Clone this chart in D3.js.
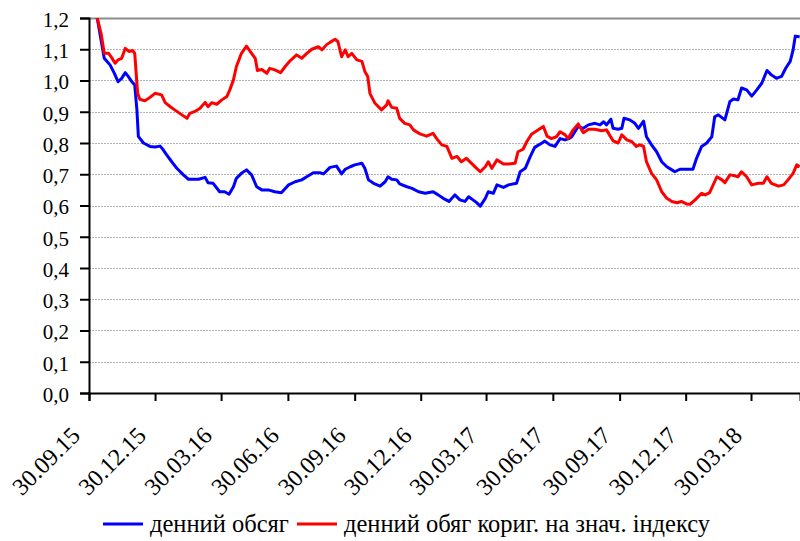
<!DOCTYPE html>
<html>
<head>
<meta charset="utf-8">
<script src="https://cdn.jsdelivr.net/npm/d3@7"></script>
<style>
  body { margin: 0; background: #fff; }
</style>
</head>
<body>
<div id="chart"></div>
<script>
const WIDTH = 800;
const HEIGHT = 541;
const FONT = "'Liberation Serif', 'DejaVu Serif', 'Times New Roman', serif";

// дата початку та кінець осі (у днях від 30.09.15)
const START = "2015-09-30";
const END_DAY = 979.5;

// денний обсяг: дні від 30.09.15 і значення
const blueDays = [0, 11, 21, 24, 29, 35, 40, 45, 50, 54, 59, 63, 66, 68, 75, 84, 91, 98, 102, 107,
  114, 121, 130, 137, 151, 160, 164, 171, 180, 187, 193, 199, 203, 210, 217, 224, 231, 238, 247, 256,
  265, 275, 284, 293, 300, 309, 318, 323, 332, 341, 348, 353, 360, 366, 376, 380, 385, 392, 401, 408,
  412, 417, 424, 428, 438, 445, 454, 463, 474, 481, 488, 496, 504, 511, 518, 523, 529, 534, 539, 546,
  550, 557, 562, 571, 578, 589, 594, 601, 608, 614, 624, 628, 635, 642, 649, 656, 661, 665, 674, 681,
  688, 697, 704, 709, 713, 719, 722, 729, 734, 737, 745, 752, 757, 764, 768, 775, 782, 789, 796, 803,
  807, 814, 823, 832, 837, 844, 851, 858, 862, 867, 876, 883, 888, 894, 899, 906, 913, 920, 927, 934,
  940, 947, 954, 960, 966, 970, 973, 979];
const blueValues = [1.32, 1.204, 1.071, 1.063, 1.05, 1.023, 0.996, 1.007, 1.025, 1.013, 0.996, 0.986, 0.906, 0.821, 0.80, 0.789, 0.787, 0.79, 0.779, 0.762,
  0.74, 0.719, 0.698, 0.684, 0.684, 0.69, 0.673, 0.671, 0.644, 0.644, 0.636, 0.66, 0.687, 0.703, 0.714, 0.698, 0.66, 0.65, 0.65, 0.644,
  0.641, 0.666, 0.676, 0.682, 0.692, 0.705, 0.705, 0.701, 0.722, 0.726, 0.701, 0.716, 0.724, 0.73, 0.735, 0.719, 0.682, 0.671, 0.662, 0.676,
  0.692, 0.684, 0.682, 0.669, 0.66, 0.655, 0.644, 0.639, 0.644, 0.634, 0.623, 0.613, 0.634, 0.618, 0.613, 0.628, 0.618, 0.609, 0.598, 0.623,
  0.644, 0.639, 0.666, 0.658, 0.666, 0.671, 0.708, 0.719, 0.757, 0.786, 0.80, 0.806, 0.794, 0.789, 0.814, 0.81, 0.814, 0.82, 0.853, 0.847,
  0.858, 0.863, 0.858, 0.868, 0.858, 0.876, 0.847, 0.844, 0.847, 0.879, 0.874, 0.863, 0.847, 0.87, 0.82, 0.794, 0.772, 0.74, 0.724, 0.714,
  0.708, 0.716, 0.716, 0.716, 0.751, 0.789, 0.80, 0.82, 0.884, 0.89, 0.874, 0.933, 0.941, 0.938, 0.976, 0.97, 0.95, 0.97, 0.992, 1.032,
  1.018, 1.007, 1.013, 1.04, 1.061, 1.098, 1.142, 1.14];

// денний обсяг кориг. на знач. індексу
const redDays = [0, 11, 17, 21, 27, 31, 36, 40, 45, 50, 55, 60, 63, 67, 70, 77, 84, 91, 100, 105,
  112, 118, 128, 135, 139, 146, 153, 160, 164, 169, 176, 183, 190, 194, 199, 203, 210, 217, 224, 229,
  232, 238, 245, 249, 256, 264, 270, 277, 286, 293, 300, 307, 316, 321, 327, 332, 339, 343, 348, 353,
  357, 362, 369, 376, 380, 384, 387, 394, 403, 410, 412, 417, 424, 428, 435, 442, 447, 456, 465, 474,
  479, 486, 493, 500, 507, 513, 520, 527, 534, 539, 546, 550, 555, 562, 571, 578, 587, 591, 598, 603,
  610, 617, 626, 631, 637, 644, 649, 656, 660, 667, 674, 681, 688, 697, 706, 713, 718, 722, 729, 734,
  741, 748, 754, 759, 764, 768, 775, 782, 789, 796, 803, 810, 816, 823, 828, 835, 844, 849, 855, 865,
  872, 876, 883, 890, 894, 899, 906, 913, 922, 929, 934, 940, 950, 957, 963, 970, 975, 979];
const redValues = [1.33, 1.204, 1.146, 1.087, 1.087, 1.074, 1.055, 1.066, 1.071, 1.103, 1.093, 1.096, 1.087, 0.959, 0.94, 0.935, 0.946, 0.959, 0.954, 0.929,
  0.916, 0.906, 0.89, 0.879, 0.895, 0.901, 0.911, 0.93, 0.916, 0.929, 0.924, 0.938, 0.949, 0.97, 1.002, 1.044, 1.087, 1.11, 1.087, 1.071,
  1.032, 1.035, 1.023, 1.039, 1.034, 1.025, 1.044, 1.063, 1.082, 1.071, 1.087, 1.10, 1.108, 1.098, 1.114, 1.122, 1.132, 1.124, 1.076, 1.098,
  1.076, 1.087, 1.066, 1.061, 1.029, 1.013, 0.959, 0.927, 0.906, 0.922, 0.935, 0.914, 0.911, 0.879, 0.863, 0.858, 0.842, 0.829, 0.822, 0.831,
  0.814, 0.794, 0.789, 0.751, 0.757, 0.74, 0.751, 0.735, 0.719, 0.708, 0.724, 0.74, 0.719, 0.746, 0.733, 0.733, 0.735, 0.772, 0.78, 0.804,
  0.829, 0.839, 0.853, 0.822, 0.814, 0.82, 0.836, 0.826, 0.814, 0.842, 0.861, 0.833, 0.844, 0.844, 0.839, 0.842, 0.822, 0.807, 0.80, 0.826,
  0.81, 0.804, 0.789, 0.794, 0.789, 0.74, 0.703, 0.682, 0.644, 0.623, 0.613, 0.609, 0.613, 0.605, 0.604, 0.618, 0.639, 0.634, 0.641, 0.692,
  0.682, 0.673, 0.698, 0.695, 0.692, 0.708, 0.692, 0.666, 0.671, 0.671, 0.692, 0.671, 0.662, 0.666, 0.682, 0.703, 0.73, 0.724];

const yTicks = [0, 0.1, 0.2, 0.3, 0.4, 0.5, 0.6, 0.7, 0.8, 0.9, 1.0, 1.1, 1.2];
const xTickDates = ["2015-09-30", "2015-12-30", "2016-03-30", "2016-06-30", "2016-09-30", "2016-12-30",
  "2017-03-30", "2017-06-30", "2017-09-30", "2017-12-30", "2018-03-30"];
const seriesNames = ["денний обсяг", "денний обяг кориг. на знач. індексу"];
const seriesColors = ["#0000ff", "#ff0000"];

const margin = { top: 18, right: 0, bottom: 148, left: 89 };

const parseDate = d3.utcParse("%Y-%m-%d");
const start = parseDate(START);
const dayToDate = d => new Date(start.getTime() + d * 864e5);

const svg = d3.select("#chart")
  .append("svg")
  .attr("width", WIDTH)
  .attr("height", HEIGHT)
  .style("font-family", FONT);

const x = d3.scaleUtc()
  .domain([start, dayToDate(END_DAY)])
  .range([margin.left, WIDTH - margin.right]);

const y = d3.scaleLinear()
  .domain([0, 1.2])
  .range([HEIGHT - margin.bottom, margin.top]);

// сітка
svg.append("g")
  .selectAll("line")
  .data(yTicks.filter(d => d > 0))
  .join("line")
  .attr("x1", margin.left)
  .attr("x2", WIDTH - margin.right)
  .attr("y1", d => Math.round(y(d)) + 0.5)
  .attr("y2", d => Math.round(y(d)) + 0.5)
  .attr("stroke", d => d === 1.2 ? "#8c8c8c" : "#b4b4b4")
  .attr("stroke-width", d => d === 1.2 ? 2 : 1)
  .attr("stroke-dasharray", d => d === 1.2 ? null : "2,1");

// лінії
svg.append("clipPath")
  .attr("id", "plot-clip")
  .append("rect")
  .attr("x", margin.left)
  .attr("y", margin.top)
  .attr("width", WIDTH - margin.left - margin.right)
  .attr("height", HEIGHT - margin.top - margin.bottom);

const line = d3.line()
  .x(d => x(d[0]))
  .y(d => y(d[1]));

const series = [
  d3.zip(blueDays.map(dayToDate), blueValues),
  d3.zip(redDays.map(dayToDate), redValues)
];

svg.append("g")
  .attr("clip-path", "url(#plot-clip)")
  .selectAll("path")
  .data(series)
  .join("path")
  .attr("d", line)
  .attr("fill", "none")
  .attr("stroke", (d, i) => seriesColors[i])
  .attr("stroke-width", 3)
  .attr("stroke-linejoin", "round");

// вісь Y
const yAxis = svg.append("g")
  .attr("transform", `translate(${margin.left},0)`)
  .call(d3.axisLeft(y)
    .tickValues(yTicks)
    .tickSize(9)
    .tickFormat(d => d3.format(".1f")(d).replace(".", ",")));
yAxis.attr("font-family", FONT);
yAxis.select(".domain").attr("stroke-width", 2);
yAxis.selectAll(".tick line").attr("stroke-width", 2);
yAxis.selectAll(".tick text")
  .attr("x", -20)
  .attr("dy", "0.4em")
  .style("font-family", FONT)
  .style("font-size", "21px");

// вісь X
const xAxis = svg.append("g")
  .attr("transform", `translate(0,${HEIGHT - margin.bottom})`)
  .call(d3.axisBottom(x)
    .tickValues(xTickDates.map(parseDate))
    .tickSize(8)
    .tickFormat(d3.utcFormat("%d.%m.%y")));
xAxis.attr("font-family", FONT);
xAxis.select(".domain").attr("stroke-width", 2);
xAxis.selectAll(".tick line").attr("stroke-width", 2);
xAxis.selectAll(".tick text")
  .attr("y", 0)
  .attr("dy", 0)
  .attr("text-anchor", "end")
  .attr("transform", "translate(-8,44) rotate(-45)")
  .style("font-family", FONT)
  .style("font-size", "24px");
svg.selectAll(".domain").attr("stroke", "#000");

// легенда
const legendX = [103, 297];
const legend = svg.append("g")
  .selectAll("g")
  .data(seriesNames)
  .join("g")
  .attr("transform", (d, i) => `translate(${legendX[i]},524)`);
legend.append("line")
  .attr("x1", 0).attr("x2", 40)
  .attr("stroke", (d, i) => seriesColors[i])
  .attr("stroke-width", 3);
legend.append("text")
  .attr("x", 47)
  .attr("dy", "0.32em")
  .style("font-family", FONT)
  .style("font-size", "24.5px")
  .text(d => d);
</script>
</body>
</html>
